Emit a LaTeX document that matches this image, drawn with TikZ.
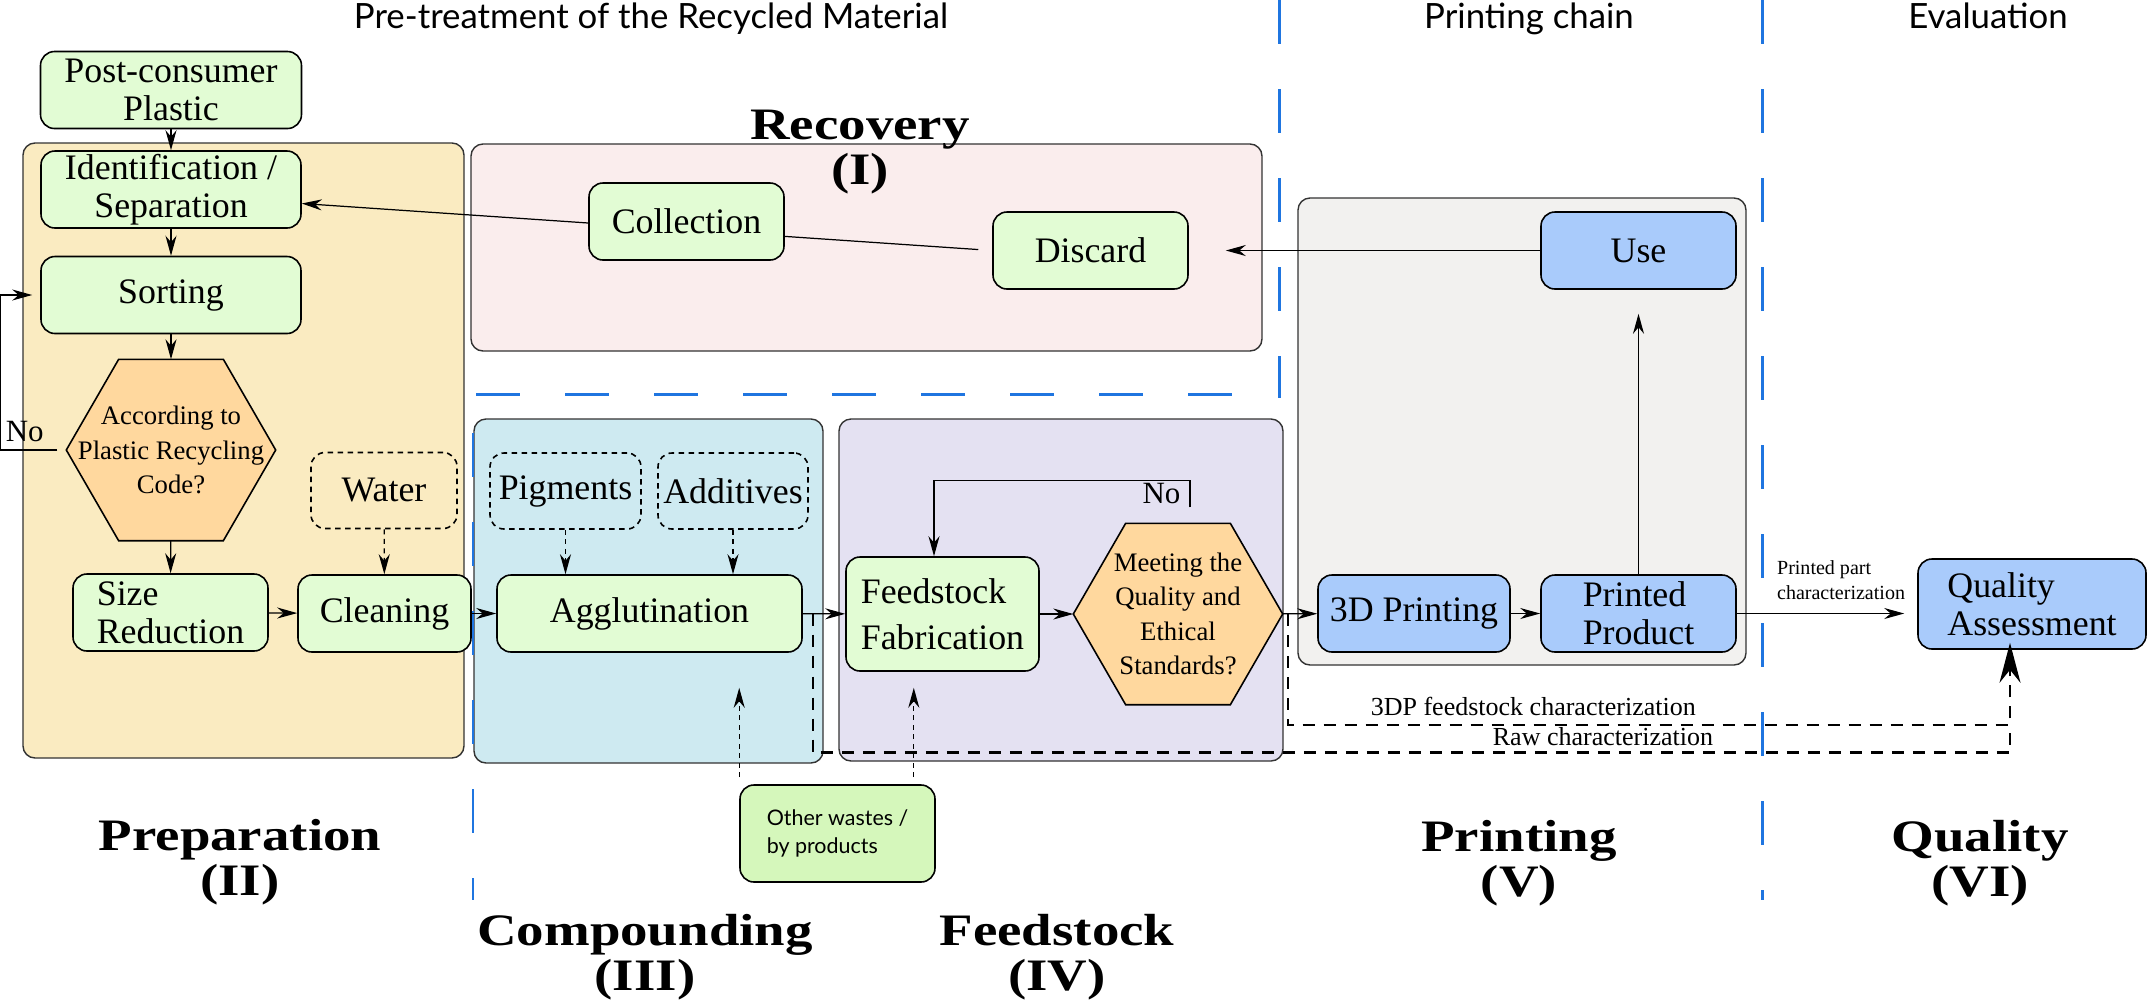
\documentclass[tikz,border=0pt]{standalone}
\usepackage{fontspec}
\setmainfont{Liberation Serif}
\newfontfamily\headfont{Lato}
\newfontfamily\phasefont[FakeStretch=1.22]{Liberation Serif}
\usetikzlibrary{arrows.meta,calc}
\definecolor{prepfill}{RGB}{250,235,193}
\definecolor{recfill}{RGB}{250,237,237}
\definecolor{compfill}{RGB}{206,234,241}
\definecolor{feedfill}{RGB}{228,225,242}
\definecolor{printfill}{RGB}{242,241,239}
\definecolor{stepgreen}{RGB}{226,252,212}
\definecolor{wastegreen}{RGB}{213,247,187}
\definecolor{hexorange}{RGB}{255,216,158}
\definecolor{stepblue}{RGB}{169,203,251}
\definecolor{guideblue}{RGB}{31,117,224}
\pgfdeclarelayer{panels}
\pgfdeclarelayer{wires}
\pgfsetlayers{panels,wires,main}
\begin{document}
\begin{tikzpicture}[x=0.1mm,y=0.1mm]
\tikzstyle{every node}+=[inner sep=0pt]
\tikzstyle{stepbox}=[rectangle, rounded corners=1.4mm, draw, line width=0.45pt, align=center, minimum width=19.5mm, minimum height=7.7mm, font=\rmfamily\fontsize{10.2}{10.8}\selectfont]
\tikzstyle{greenbox}=[stepbox, fill=stepgreen]
\tikzstyle{bluebox}=[stepbox, fill=stepblue]
\tikzstyle{dashbox}=[stepbox, dash pattern=on 0.55mm off 0.45mm, minimum width=15mm, minimum height=7.6mm]
\tikzstyle{hexbox}=[minimum width=20.8mm, minimum height=18mm, align=center, font=\rmfamily\fontsize{7.6}{9.8}\selectfont]
\tikzstyle{stagepanel}=[draw=black!80, line width=0.4pt, rounded corners=1.2mm]
\tikzstyle{flowarrow}=[-{Stealth[length=2mm,width=1.1mm]}, line width=0.35pt]
\tikzstyle{dashflow}=[flowarrow, dash pattern=on 0.5mm off 0.45mm]
\tikzstyle{charline}=[line width=0.6pt, dash pattern=on 1.2mm off 0.9mm]
\tikzstyle{charlabel}=[font=\rmfamily\fontsize{7.4}{8.5}\selectfont]
\tikzstyle{nolabel}=[font=\rmfamily\fontsize{8.8}{10}\selectfont]
\tikzstyle{guideline}=[guideblue, line width=0.85pt, dash pattern=on 4.4mm off 4.5mm]
\tikzstyle{phasetext}=[align=center, font=\phasefont\bfseries\fontsize{12.8}{12.8}\selectfont]
\tikzstyle{headtext}=[anchor=base, font=\headfont\fontsize{9.9}{11}\selectfont]
\useasboundingbox (0,0) rectangle (2148,-1000);
\node[headtext] (pretreat) at (651,-28) {Pre-treatment of the Recycled Material};
\node[headtext] (chainhead) at (1529,-28) {Printing chain};
\node[headtext] (evalhead) at (1988,-28) {Evaluation};
\node[phasetext] (recov) at (860,-152) {Recovery\\(I)};
\node[phasetext] (prep) at (240,-862) {Preparation\\(II)};
\node[phasetext] (comp) at (645,-957) {Compounding\\(III)};
\node[phasetext] (feedst) at (1057,-957) {Feedstock\\(IV)};
\node[phasetext] (printst) at (1519,-863) {Printing\\(V)};
\node[phasetext] (qualst) at (1980,-863) {Quality\\(VI)};
\node[greenbox, minimum width=26.1mm] (post) at (171,-90) {Post-consumer\\Plastic};
\node[greenbox, minimum width=26mm] (ident) at (171,-189.5) {Identification /\\Separation};
\node[greenbox, minimum width=26mm] (sort) at (171,-295) {Sorting};
\node[hexbox] (code) at (171,-450) {According to\\Plastic Recycling\\Code?};
\node[greenbox, align=left] (size) at (170.5,-612.5) {Size\\Reduction};
\node[greenbox, minimum width=17.3mm] (clean) at (384.5,-613.5) {Cleaning};
\node[dashbox, minimum width=14.6mm] (water) at (384,-490.5) {Water};
\node[dashbox, minimum width=15.1mm] (pigm) at (565.5,-491) {Pigments};
\node[dashbox] (addit) at (733,-491) {Additives};
\node[greenbox, minimum width=30.5mm] (aggl) at (649.5,-613.5) {Agglutination};
\node[greenbox, align=left, minimum width=19.3mm, minimum height=11.4mm] (feed) at (942.5,-614) {Feedstock\\[0.8mm]Fabrication};
\node[hexbox] (meet) at (1178,-614) {Meeting the\\Quality and\\Ethical\\Standards?};
\node[bluebox, minimum width=19.2mm] (print) at (1414,-613.5) {3D Printing};
\node[bluebox, align=left] (prod) at (1638.5,-613.5) {Printed\\Product};
\node[bluebox] (use) at (1638.5,-250.5) {Use};
\node[bluebox, align=left, minimum width=22.8mm, minimum height=9mm] (qual) at (2032,-604) {Quality\\Assessment};
\node[greenbox] (coll) at (686.5,-221.5) {Collection};
\node[greenbox] (disc) at (1090.5,-250.5) {Discard};
\node[greenbox, fill=wastegreen, align=left, minimum height=9.7mm, font=\headfont\fontsize{6.1}{8}\selectfont] (waste) at (837.5,-833.5) {Other wastes /\\by products};
\coordinate (qin) at ([xshift=-2.2mm,yshift=0.7mm]qual.south);
\begin{pgfonlayer}{panels}
\draw[stagepanel, fill=prepfill] (23,-143) rectangle (464,-758);
\draw[stagepanel, fill=recfill] (471,-144) rectangle (1262,-351);
\draw[stagepanel, fill=compfill] (474,-419) rectangle (823,-763);
\draw[stagepanel, fill=feedfill] (839,-419) rectangle (1283,-761);
\draw[stagepanel, fill=printfill] (1298,-198) rectangle (1746,-665);
\end{pgfonlayer}
\begin{pgfonlayer}{wires}
\foreach \h in {code,meet}
\draw[fill=hexorange, line width=0.45pt] (\h.west) -- ($(\h.north west)!0.25!(\h.north east)$) -- ($(\h.north west)!0.75!(\h.north east)$) -- (\h.east) -- ($(\h.south west)!0.75!(\h.south east)$) -- ($(\h.south west)!0.25!(\h.south east)$) -- cycle;
\draw[flowarrow, shorten <=1.4mm] (disc.west) -- ([yshift=-1.4mm]ident.east);
\draw[guideline] (1279,0) -- (1279,-398);
\draw[guideline] (476,-394) -- (1233,-394);
\draw[guideline] (473,-433) -- (473,-900);
\draw[guideline] (1762,0) -- (1762,-900);
\end{pgfonlayer}
\draw[flowarrow] (post) -- (ident);
\draw[flowarrow] (ident) -- (sort);
\draw[flowarrow] (sort) -- (code);
\draw[flowarrow] (code) -- (size);
\draw[flowarrow, shorten <=0.9mm, shorten >=0.8mm] (code.west) -- ++(-66,0) node[pos=0.63, above=0.8mm, nolabel] {No} |- (sort.west);
\draw[flowarrow] (size) -- (clean);
\draw[dashflow] (water) -- (clean);
\draw[flowarrow] (clean) -- (aggl);
\draw[dashflow] (pigm) -- (pigm |- aggl.north);
\draw[dashflow] (addit) -- (addit |- aggl.north);
\draw[flowarrow] (aggl) -- (feed);
\draw[dashflow, shorten <=0.7mm] (waste.north west) -- ([yshift=-3.5mm]waste.north west |- aggl.south);
\draw[dashflow, shorten <=0.7mm] ([xshift=-2.2mm]waste.north east) -- ([xshift=-2.2mm,yshift=-1.6mm]waste.north east |- feed.south);
\draw[flowarrow] (feed) -- (meet);
\draw[flowarrow] ([xshift=1.2mm,yshift=1.6mm]meet.north) -- ++(0,27) node[midway, left=0.9mm, nolabel] {No} -| ([xshift=-0.85mm]feed.north);
\draw[flowarrow] (meet) -- (print);
\draw[flowarrow] (print) -- (prod);
\draw[flowarrow, shorten >=2.4mm] (prod) -- (use);
\draw[flowarrow, shorten >=3.7mm] (use) -- (disc);
\draw[flowarrow, shorten >=1.3mm] (prod) -- node[pos=0.22, anchor=south west, yshift=1.3mm, align=left, font=\rmfamily\fontsize{5.7}{7.1}\selectfont] {Printed part\\characterization} (prod -| qual.west);
\draw[charline, -{Stealth[length=4mm,width=2.1mm]}] ([xshift=0.5mm]meet.east) -- ++(0,-111) coordinate (fs) -- node[pos=0.34, above=0.8mm, charlabel] {3DP feedstock characterization} (fs -| qin) -- (qin);
\draw[charline] ([xshift=1mm]aggl.east) -- ++(0,-139) coordinate (rw) -- node[pos=0.66, above=0.6mm, charlabel] {Raw characterization} (rw -| qin) -- (fs -| qin);
\end{tikzpicture}
\end{document}
